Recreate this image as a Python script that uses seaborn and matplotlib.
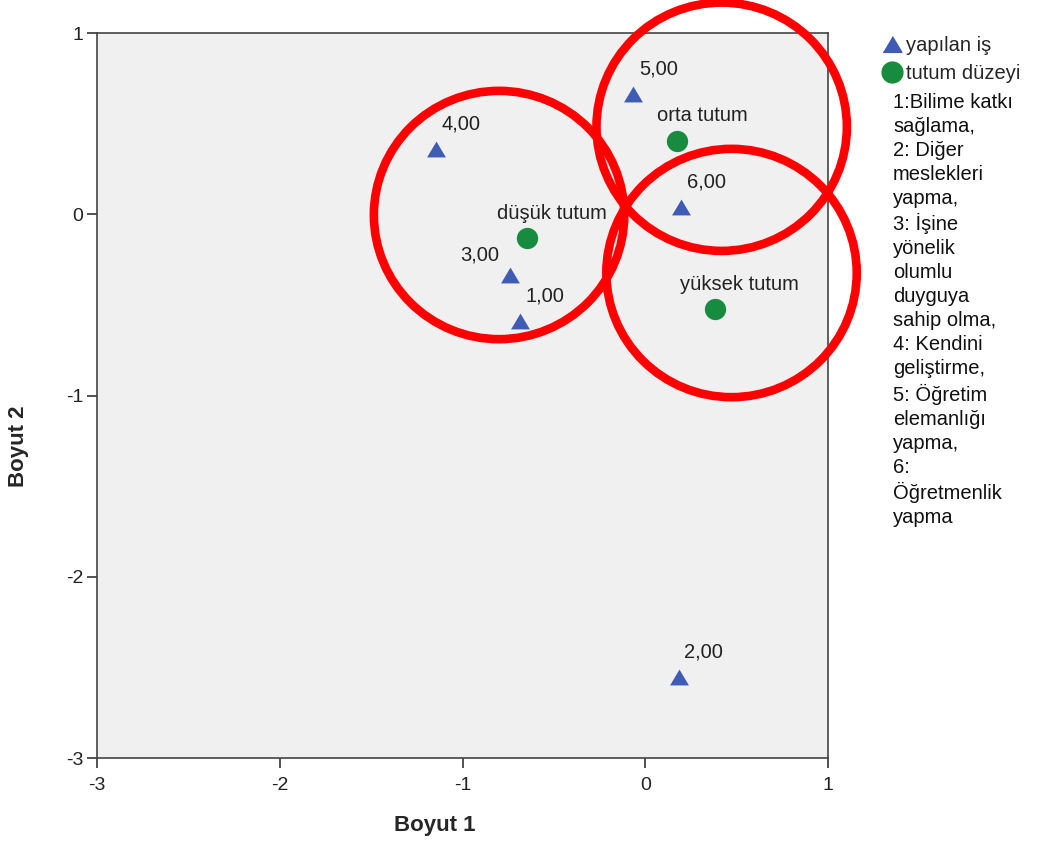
import seaborn as sns
import matplotlib.pyplot as plt
from matplotlib.lines import Line2D
from matplotlib.patches import Circle
import pandas as pd

# point data
job_labels = ["1,00", "2,00", "3,00", "4,00", "5,00", "6,00"]
job_x = [-0.687, 0.183, -0.738, -1.145, -0.065, 0.196]
job_y = [-0.587, -2.551, -0.337, 0.360, 0.662, 0.042]

att_labels = ["düşük tutum", "orta tutum", "yüksek tutum"]
att_x = [-0.645, 0.175, 0.380]
att_y = [-0.131, 0.406, -0.524]

# red highlight circles (centre x, centre y) and radius in data units
circle_centres = [(-0.800, -0.004), (0.418, 0.483), (0.472, -0.324)]
circle_radius = 0.685

legend_names = ["yapılan iş", "tutum düzeyi"]
note_text = ("1:Bilime katkı\nsağlama,\n2: Diğer\nmeslekleri\nyapma,\n3: İşine\n"
             "yönelik\nolumlu\nduyguya\nsahip olma,\n4: Kendini\ngeliştirme,\n"
             "5: Öğretim\nelemanlığı\nyapma,\n6:\nÖğretmenlik\nyapma")

blue = "#3F5BB4"
green = "#178C3E"
tri = [(-1, -0.84), (1, -0.84), (0, 0.84)]

# label placement: above-right by default, 3,00 sits above-left
default_offset = (18, 18)
offset_override = {"3,00": (-22, 15)}

df = pd.DataFrame({
    "x": job_x + att_x,
    "y": job_y + att_y,
    "label": job_labels + att_labels,
    "grup": [legend_names[0]] * len(job_x) + [legend_names[1]] * len(att_x),
})

sns.set_style("ticks")
plt.rcParams["font.family"] = ["Liberation Sans", "DejaVu Sans"]
plt.rcParams["axes.unicode_minus"] = False

fig = plt.figure(figsize=(10.37, 8.43), dpi=100)
ax = fig.add_axes([0.0935, 0.1008, 0.705, 0.860])
ax.set_facecolor("#F0F0F0")

jobs = df[df["grup"] == legend_names[0]]
atts = df[df["grup"] == legend_names[1]]
sns.scatterplot(data=jobs, x="x", y="y", marker=tri, s=185, color=blue,
                linewidth=0, ax=ax, zorder=3)
sns.scatterplot(data=atts, x="x", y="y", marker="o", s=235, color=green,
                linewidth=0, ax=ax, zorder=3)

for _, row in df.iterrows():
    ax.annotate(row["label"], (row["x"], row["y"]),
                xytext=offset_override.get(row["label"], default_offset),
                textcoords="offset points", ha="center", va="center",
                fontsize=14.5, color="#222222", zorder=4)

for cx, cy in circle_centres:
    ax.add_patch(Circle((cx, cy), circle_radius, fill=False, edgecolor="#FF0000",
                        linewidth=6.2, clip_on=False, zorder=5))

ax.set_xlim(-3, 1)
ax.set_ylim(-3, 1)
ax.set_xticks([-3, -2, -1, 0, 1])
ax.set_yticks([-3, -2, -1, 0, 1])
ax.tick_params(direction="out", length=7, width=1.2, color="#333333",
               labelsize=14, labelcolor="#222222")
ax.tick_params(axis="x", pad=7)
ax.tick_params(axis="y", pad=3)
for sp in ax.spines.values():
    sp.set_color("#444444")
    sp.set_linewidth(1.2)

ax.set_xlabel("Boyut 1", fontsize=16, fontweight="bold")
ax.set_ylabel("Boyut 2", fontsize=16, fontweight="bold")
ax.xaxis.set_label_coords(0.462, -0.079)
ax.yaxis.set_label_coords(-0.093, 0.43)

handles = [
    Line2D([], [], linestyle="none", marker=tri, markersize=13.5, color=blue),
    Line2D([], [], linestyle="none", marker="o", markersize=15, color=green),
]
fig.legend(handles, legend_names, loc="upper left",
           bbox_to_anchor=(884 / 1037, 1 - 36 / 843), frameon=False,
           fontsize=14.5, handlelength=0.8, handletextpad=0.3,
           labelspacing=0.45, borderaxespad=0, borderpad=0)

fig.text(893 / 1037, 1 - 93 / 843, note_text, ha="left", va="top",
         fontsize=14.5, linespacing=1.33, color="#111111")

fig.savefig("out.png", dpi=100)
